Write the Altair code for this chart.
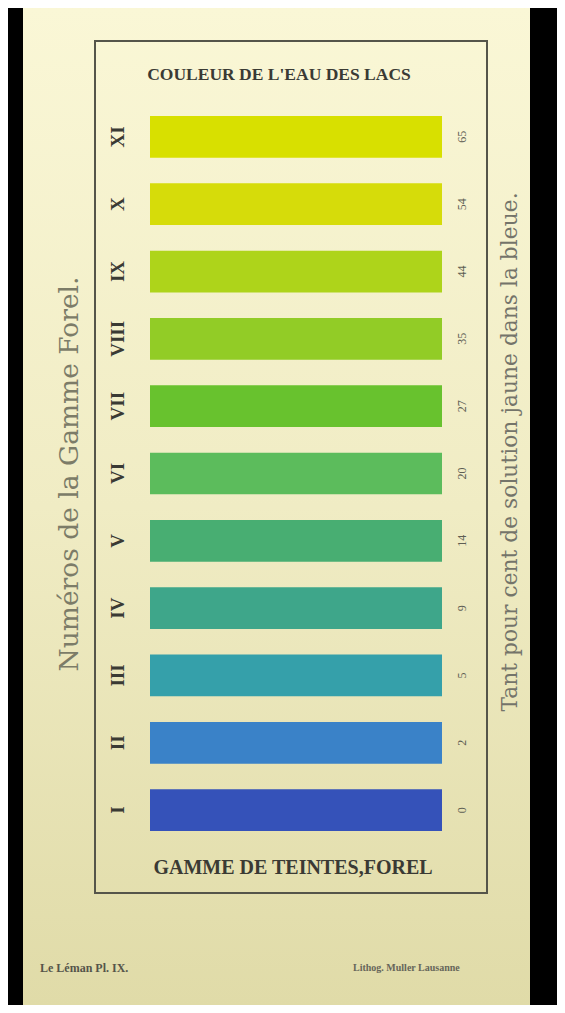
import altair as alt
import pandas as pd

# Forel colour scale: numerals, percent of yellow solution in blue, swatch colours
numerals = ["I", "II", "III", "IV", "V", "VI", "VII", "VIII", "IX", "X", "XI"]
percents = [0, 2, 5, 9, 14, 20, 27, 35, 44, 54, 65]
colors = ["#3552b9", "#3a82c8", "#35a0aa", "#3ea68a", "#48ae72", "#5cbc5c",
          "#68c22e", "#92cc26", "#aed41a", "#d6dc0a", "#d8e000"]

title_top = "COULEUR DE L'EAU DES LACS"
title_bottom = "GAMME DE TEINTES,FOREL"
label_left = "Numéros de la Gamme Forel."
label_right = "Tant pour cent de solution jaune dans la bleue."
foot_left = "Le Léman Pl. IX."
foot_right = "Lithog. Muller Lausanne"

df = pd.DataFrame({"numeral": numerals, "percent": percents})
order_top_down = list(reversed(numerals))

one = alt.Data(values=[{"k": 0}])

paper = alt.Chart(one).mark_rect(
    color=alt.LinearGradient(
        gradient="linear",
        stops=[alt.GradientStop(color="#faf7d6", offset=0),
               alt.GradientStop(color="#f0ecc4", offset=0.5),
               alt.GradientStop(color="#e0dba8", offset=1)],
        x1=0, x2=0, y1=0, y2=1)
).encode(x=alt.value(15), x2=alt.value(522), y=alt.value(0), y2=alt.value(997))

frame = alt.Chart(one).mark_rect(
    fillOpacity=0, stroke="#55554a", strokeWidth=2
).encode(x=alt.value(87), x2=alt.value(479), y=alt.value(33), y2=alt.value(885))

yscale = alt.Scale(domain=order_top_down, range=[108, 823],
                   paddingInner=0.38, paddingOuter=0)

base = alt.Chart(df)

bars = base.mark_rect().encode(
    y=alt.Y("numeral:N", scale=yscale, axis=None, sort=order_top_down),
    x=alt.value(142), x2=alt.value(434),
    color=alt.Color("numeral:N", scale=alt.Scale(domain=numerals, range=colors), legend=None),
)

roman = base.mark_text(
    font="Liberation Serif", fontWeight="bold", fontSize=19, angle=270,
    color="#3a3a34", baseline="middle", align="center"
).encode(
    y=alt.Y("numeral:N", scale=yscale, axis=None, sort=order_top_down),
    x=alt.value(110),
    text="numeral:N",
)

pct = base.mark_text(
    font="Liberation Serif", fontSize=12, angle=270,
    color="#5e5e54", baseline="middle", align="center"
).encode(
    y=alt.Y("numeral:N", scale=yscale, axis=None, sort=order_top_down),
    x=alt.value(454),
    text="percent:Q",
)

def label(txt, x, y, size, angle=0, weight="normal", color="#3a3a34", font="Liberation Serif", align="center"):
    return alt.Chart(one).mark_text(
        text=txt, font=font, fontSize=size, angle=angle, fontWeight=weight,
        color=color, baseline="middle", align=align
    ).encode(x=alt.value(x), y=alt.value(y))

t1 = label(title_top, 271, 67, 17.5, weight="bold")
t2 = label(title_bottom, 285, 860, 20, weight="bold")
l1 = label(label_left, 62, 466, 26.5, angle=270, color="#7c7c68", font="DejaVu Serif")
l2 = label(label_right, 502, 444, 21.8, angle=270, color="#74746a", font="DejaVu Serif")
f1 = label(foot_left, 32, 960, 12, weight="bold", color="#55554a", align="left")
f2 = label(foot_right, 345, 960, 10, weight="bold", color="#66665a", align="left")

chart = alt.layer(paper, frame, bars, roman, pct, t1, t2, l1, l2, f1, f2).properties(
    width=549, height=997, padding=0
).configure(background="black").configure_view(strokeWidth=0)

chart.save("out.html", embed_options={"renderer": "svg", "actions": False})
